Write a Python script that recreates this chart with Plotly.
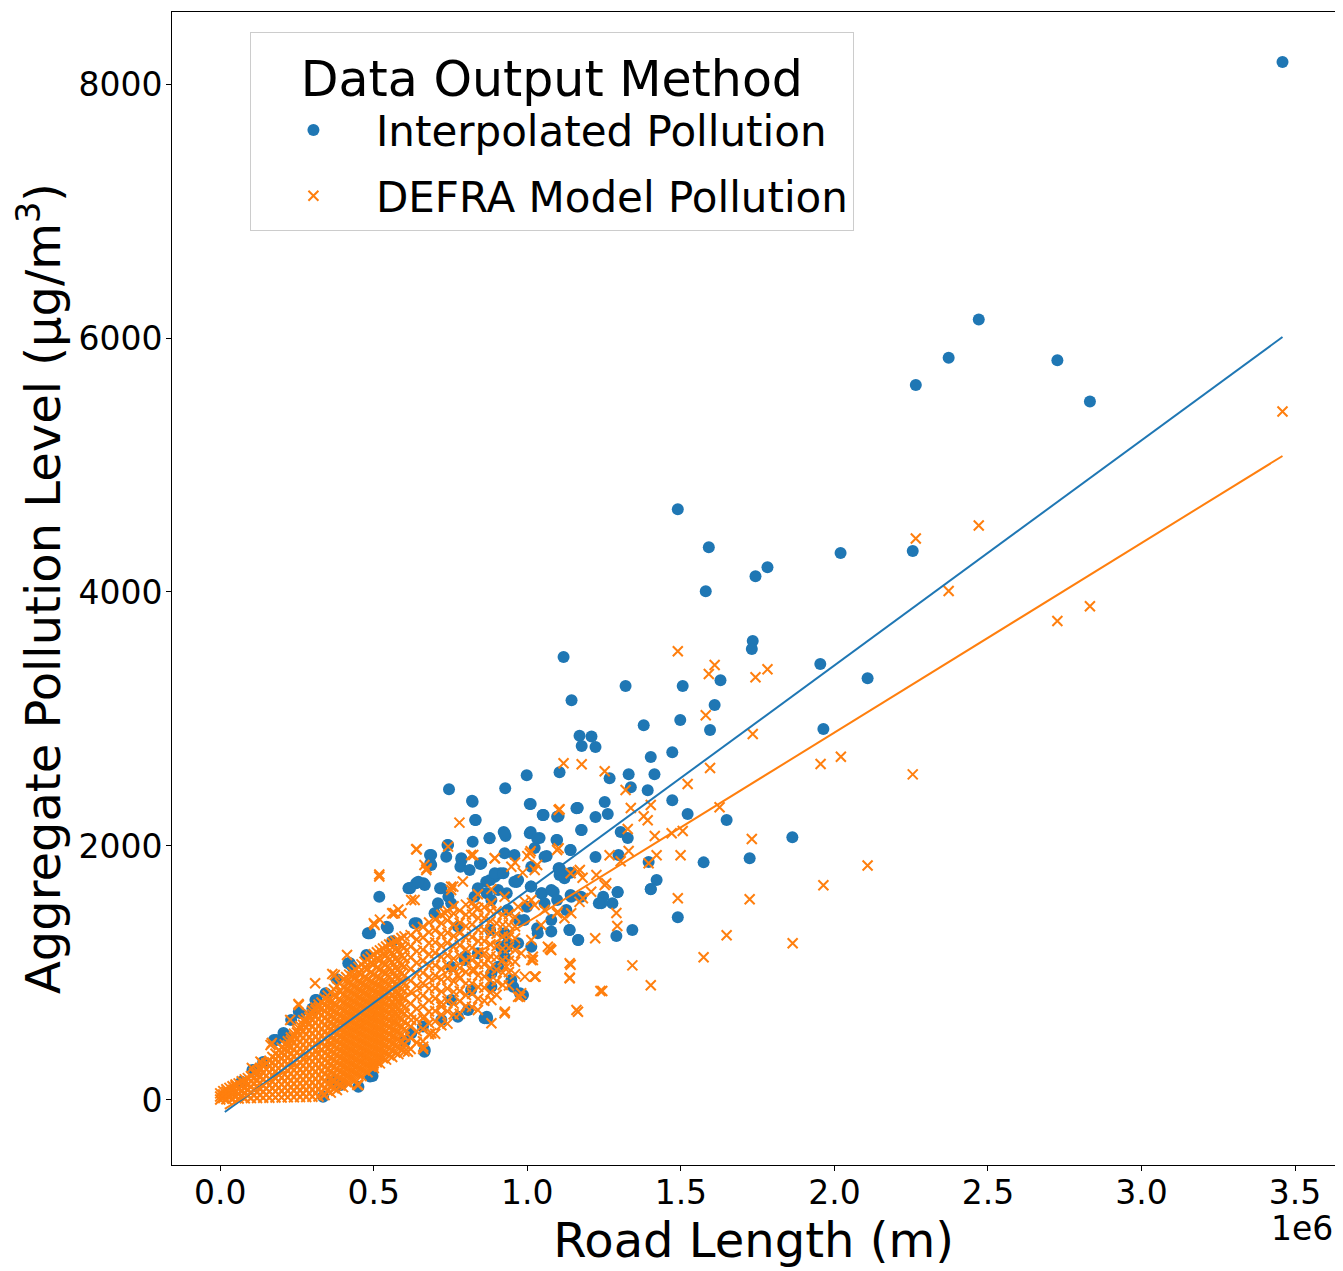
import plotly.graph_objects as go

FONT = "DejaVu Sans"
BLUE = "#1f77b4"
ORANGE = "#ff7f0e"

# ---------------- data (road length in thousands of metres, pollution in µg/m³) ----------------
interp_km = [
    3459, 2470, 2372, 2265, 2726, 2832, 1490, 1591, 1581, 1743, 1782, 2020, 2255,
    1118, 1144, 1320, 1506, 1629, 1610, 1498, 1595, 1379, 1734, 1731, 1954, 2108, 1964,
    1170, 1209, 1177, 1222, 1402, 1472, 998, 1105, 928, 1268, 1330, 1414, 1337, 1392, 1472,
    1011, 1252, 1164, 1053, 1102, 1222, 1262, 1522, 1649, 1177, 1304, 1327, 1863, 877, 923,
    929, 1011, 1040, 1095, 1141, 1024, 1063, 1222, 1297, 1574, 1724, 1395, 1421, 1402, 1294,
    1105, 1105, 965, 1011, 1141, 850, 894, 1490, 1342, 1290, 1402, 1294, 1277, 1247, 1165,
    1138, 1241, 986, 869, 807, 665, 613, 662, 684, 847, 782, 912, 879, 958, 868,
    933, 999, 1048, 1086, 1102, 1141, 1233, 698, 752, 828, 633, 774, 879, 972, 1032,
    1078, 936, 913, 839, 796, 752, 905, 948, 883, 817, 752, 720, 774, 660, 622, 601,
    822, 830, 1008, 1050, 1160, 1175, 1097, 740, 687, 736, 687, 785, 822, 877, 926,
    1008, 1032, 1097, 1140, 812, 926, 958, 1013, 1056, 1105, 894, 866, 905, 970, 1013,
    1045, 1078, 1121, 1143, 1175, 638, 617, 666, 518, 720, 743, 709, 839, 883, 936,
    990, 1056, 1097, 1127, 1078, 1137, 1034, 1013, 970, 926, 926, 546, 481, 421, 796,
    883, 861, 666, 175, 213, 256, 310, 343, 417, 476, 69, 105, 484, 260, 206,
    496, 450, 392, 365, 488, 335, 745, 820, 832, 1051, 1163, 742, 786, 683, 618,
    645, 716, 846, 922, 1107, 640, 542, 488, 422, 933, 1166, 954, 868, 976, 314,
    183, 231, 140, 300, 380, 430, 560,
]
interp_ug = [
    8173, 6145, 5845, 5630, 5825, 5500, 4651, 4352, 4006, 4124, 4195, 4307, 4323,
    3488, 3147, 3260, 3260, 3305, 3110, 2992, 2913, 2950, 3614, 3551, 3433, 3320, 2921,
    2868, 2863, 2787, 2779, 2701, 2738, 2557, 2580, 2454, 2533, 2565, 2565, 2462, 2439, 2360,
    2331, 2346, 2299, 2244, 2236, 2228, 2252, 2252, 2205, 2126, 2110, 2063, 2068, 2063, 2110,
    2079, 2110, 2063, 2047, 1969, 1984, 1921, 1913, 1929, 1871, 1903, 1874, 1732, 1661, 1638,
    1824, 1772, 1717, 1680, 1790, 1864, 1758, 1438, 1339, 1291, 1659, 1635, 1549, 1600, 1260,
    1339, 1549, 827, 643, 709, 380, 1667, 1706, 1864, 1858, 1837, 1785, 1732, 1719, 1627,
    1627, 1522, 1627, 1640, 1824, 1614, 1549, 1470, 1549, 1601, 1391, 1365, 1339, 1417, 1352,
    1326, 1234, 1207, 1155, 1102, 1050, 1050, 945, 892, 866, 787, 630, 656, 578, 525, 460,
    2349, 2205, 2331, 2244, 2297, 2126, 2231, 2008, 1929, 1916, 1850, 1903, 2034, 2061, 2100,
    2100, 2061, 2047, 1969, 1811, 1943, 1929, 1837, 1916, 1811, 1785, 1719, 1654, 1732, 1680,
    1627, 1654, 1746, 1601, 1601, 1706, 1669, 1693, 1601, 1667, 1601, 1549, 1667, 1575, 1496,
    1417, 1549, 1575, 1496, 1417, 1339, 1312, 1207, 1234, 1128, 1312, 1352, 1312, 1076, 1128,
    998, 643, 394, 472, 504, 695, 787, 840, 1076, 1142, 144, 236, 1312, 685, 527,
    189, 105, 118, 144, 184, 26, 2446, 2357, 2205, 2244, 2299, 2008, 1890, 1929, 1667,
    1719, 1667, 1864, 1785, 1811, 1391, 1365, 1312, 1076, 1207, 1260, 892, 656, 840, 787,
    472, 630, 300, 720, 950, 1050, 1250,
]

defra_km = [
    3459, 2265, 2470, 2372, 2726, 2832, 1955, 2021, 2255, 2108, 1964,
    1490, 1610, 1591, 1743, 1782, 1581, 1734, 1595, 1118, 1177, 1252, 1522, 1320, 1337, 1402,
    1102, 1379, 1392, 1626, 1327, 1415, 1470, 1506, 1731, 1102, 1330, 1268, 1421, 1499, 1395,
    1304, 894, 1011, 1724, 1490, 1649, 1864, 1574, 1342, 1402, 1244, 1290, 1293, 1257,
    1221, 1075, 1141, 1138, 1238, 1165, 1027, 1018, 970, 926, 883, 661, 611, 1105, 779,
    638, 742, 518, 518, 671, 817, 894, 960, 1000, 985, 1032, 1097, 1165, 1180, 633,
    568, 503, 752, 790, 839, 883, 926, 970, 1013, 1056, 1097, 1143, 1170, 1067, 1013,
    1018, 1078, 1024, 980, 732, 828, 883, 992, 1024, 1045, 1099, 1121, 1181, 1225, 1252,
    1208, 1141, 1024, 948, 665, 752, 622, 590, 980, 1013, 992, 932, 872, 828, 774,
    883, 839, 720, 665, 687, 622, 560, 500, 413, 309, 365, 255, 228, 168, 103,
    136, 373, 256, 164, 131, 446, 500, 369, 336, 498, 476, 640, 672, 824, 1008,
    1171, 759, 563, 1073, 1138, 1138, 1160, 1024, 976, 927, 661, 498, 450, 520, 580,
]
defra_ug = [
    5421, 4421, 4523, 4008, 3772, 3888, 2646, 2702, 2564, 1846, 1691,
    3533, 3425, 3354, 3328, 3391, 3029, 2882, 2614, 2651, 2643, 2588, 2488, 2441, 2299, 2323,
    2283, 2234, 2202, 2305, 2134, 2079, 2100, 2118, 2055, 1982, 1961, 1927, 1927, 1927, 1864,
    1880, 1903, 1958, 1580, 1588, 1297, 1234, 1124, 1060, 903, 858, 1472, 1370, 1706,
    1273, 1187, 1065, 963, 858, 695, 971, 1102, 813, 683, 604, 402, 380, 2289, 2184,
    1974, 1995, 1760, 1775, 1811, 1929, 1903, 1870, 1920, 1790, 1850, 1969, 1798, 1750, 1575,
    1470, 1378, 1680, 1720, 1620, 1660, 1600, 1522, 1575, 1496, 1470, 1470, 1560, 1207, 1260,
    1128, 1181, 971, 840, 1470, 1522, 1549, 1562, 1535, 1378, 1483, 1431, 1588, 1772, 1693,
    1640, 1785, 1811, 1837, 1850, 1654, 1575, 1470, 1155, 1102, 971, 1050, 1102, 1024, 984,
    787, 709, 735, 656, 525, 630, 1470, 1391, 1142, 919, 992, 756, 630, 449, 252,
    291, 984, 748, 433, 302, 120, 289, 157, 40, 276, 341, 1974, 1824, 1929, 1943,
    1811, 1680, 1470, 1194, 1076, 958, 709, 971, 813, 696, 420, 262, 118, 1420, 1500,
]

# dense DEFRA cloud, read column by column (road length km -> pollution values)
defra_cloud_km = [
    0, 10, 20, 30, 40, 50, 60, 70, 80, 90, 100, 110, 120, 130, 140, 150, 160, 170, 180, 190,
    200, 210, 220, 230, 240, 250, 260, 270, 280, 290, 300, 310, 320, 330, 340, 350, 360, 370,
    380, 390, 400, 410, 420, 430, 440, 450, 460, 470, 480, 490, 500, 510, 520, 530, 540, 550,
    560, 570, 580, 590, 600,
    620, 640, 660, 680, 700, 720, 740, 760, 780, 800, 820, 840, 860, 880, 900, 920, 940, 960,
]
defra_cloud_ug = [
    [4, 28, 52],
    [16, 44, 70],
    [6, 38, 66, 84],
    [24, 58, 95],
    [9, 44, 78, 108],
    [28, 66, 108, 122],
    [11, 49, 88, 131],
    [30, 72, 112, 148],
    [13, 54, 97, 134, 162],
    [34, 79, 124, 172],
    [15, 58, 104, 147, 188],
    [37, 83, 128, 172, 212],
    [16, 61, 108, 156, 201, 232],
    [39, 87, 134, 182, 236, 252],
    [17, 64, 113, 164, 214, 268],
    [41, 90, 139, 190, 242, 289],
    [18, 66, 117, 166, 219, 266, 309],
    [42, 93, 143, 194, 245, 296, 338],
    [19, 69, 121, 172, 224, 273, 322, 364],
    [44, 95, 147, 198, 250, 300, 348, 390],
    [20, 71, 122, 174, 226, 277, 328, 373, 412],
    [46, 97, 149, 201, 253, 305, 355, 402, 438],
    [21, 73, 126, 178, 231, 283, 335, 386, 431, 462],
    [48, 100, 153, 206, 259, 312, 364, 418, 468, 492],
    [22, 74, 128, 183, 237, 291, 344, 398, 452, 498, 521],
    [49, 102, 156, 210, 264, 318, 372, 426, 482, 532, 552],
    [23, 76, 131, 186, 241, 296, 351, 404, 459, 514, 556, 582],
    [51, 106, 160, 215, 270, 325, 380, 434, 489, 544, 592, 628],
    [24, 79, 134, 189, 244, 299, 354, 409, 464, 518, 572, 614, 641],
    [52, 108, 163, 218, 274, 329, 384, 439, 494, 549, 604, 652, 672],
    [25, 81, 137, 192, 248, 303, 358, 413, 468, 523, 578, 631, 674, 702],
    [54, 110, 166, 222, 278, 333, 388, 443, 498, 553, 608, 662, 708, 728],
    [27, 84, 140, 196, 252, 307, 362, 417, 472, 527, 582, 637, 689, 728, 751],
    [60, 117, 173, 229, 285, 340, 395, 450, 505, 560, 615, 670, 722, 768],
    [38, 94, 150, 205, 261, 316, 371, 426, 481, 536, 591, 646, 699, 747, 798],
    [72, 128, 184, 240, 295, 350, 405, 460, 515, 570, 625, 680, 733, 788, 822],
    [58, 113, 169, 224, 279, 334, 389, 444, 499, 554, 609, 664, 718, 774, 846],
    [92, 148, 204, 259, 314, 369, 424, 479, 534, 589, 644, 700, 758, 822, 872],
    [79, 134, 189, 244, 299, 354, 409, 464, 519, 574, 629, 688, 749, 818, 897],
    [114, 170, 225, 280, 335, 390, 445, 500, 555, 610, 665, 724, 784, 852, 918],
    [101, 156, 211, 266, 321, 376, 431, 486, 541, 596, 651, 709, 768, 829, 889, 948],
    [142, 197, 252, 307, 362, 417, 472, 527, 582, 637, 692, 752, 812, 872, 938, 968],
    [128, 184, 239, 294, 349, 404, 459, 514, 569, 624, 679, 738, 798, 859, 921, 987],
    [170, 226, 281, 336, 391, 446, 501, 556, 611, 666, 722, 782, 844, 908, 972, 1008],
    [158, 213, 268, 323, 378, 433, 488, 543, 598, 653, 709, 768, 828, 891, 958, 1028],
    [200, 255, 310, 365, 420, 475, 530, 585, 640, 696, 752, 811, 872, 936, 1002, 1048],
    [188, 243, 298, 353, 408, 463, 518, 573, 628, 684, 739, 798, 858, 921, 991, 1068],
    [232, 287, 342, 397, 452, 507, 562, 617, 672, 727, 783, 842, 903, 968, 1041, 1088],
    [219, 274, 329, 384, 439, 494, 549, 604, 659, 714, 769, 828, 889, 952, 1031, 1108],
    [262, 317, 372, 427, 482, 537, 592, 647, 702, 757, 812, 872, 934, 1004, 1078, 1128],
    [251, 306, 361, 416, 471, 526, 581, 636, 691, 746, 801, 859, 919, 988, 1068, 1148],
    [297, 352, 407, 462, 517, 572, 627, 682, 737, 792, 848, 908, 970, 1040, 1112, 1163],
    [288, 343, 398, 453, 508, 563, 618, 673, 728, 783, 838, 898, 959, 1029, 1101, 1178],
    [328, 383, 438, 493, 548, 603, 658, 713, 768, 823, 878, 940, 1008, 1078, 1148, 1193],
    [318, 373, 428, 483, 538, 593, 648, 703, 758, 813, 868, 928, 998, 1068, 1139, 1208],
    [352, 407, 462, 517, 572, 627, 682, 737, 792, 847, 903, 966, 1034, 1104, 1174, 1224],
    [338, 393, 448, 503, 558, 613, 668, 723, 778, 833, 889, 951, 1019, 1088, 1161, 1238],
    [373, 431, 490, 548, 608, 667, 726, 786, 845, 905, 968, 1036, 1108, 1184, 1250],
    [361, 418, 479, 538, 601, 659, 721, 779, 841, 899, 961, 1029, 1098, 1179, 1259],
    [395, 455, 514, 574, 633, 693, 752, 812, 871, 931, 995, 1063, 1134, 1213, 1276],
    [382, 441, 498, 561, 619, 681, 739, 801, 858, 921, 979, 1051, 1119, 1201, 1288],
    [402, 488, 579, 671, 758, 851, 938, 1031, 1122, 1209, 1298],
    [452, 541, 633, 719, 812, 899, 993, 1081, 1172, 1263, 1341],
    [462, 558, 643, 737, 822, 918, 1001, 1096, 1182, 1279, 1362],
    [517, 604, 697, 786, 877, 966, 1058, 1147, 1236, 1322, 1398],
    [521, 619, 701, 799, 882, 979, 1061, 1158, 1241, 1337, 1421],
    [588, 672, 767, 853, 948, 1032, 1127, 1214, 1305, 1391, 1458],
    [601, 699, 779, 878, 958, 1057, 1138, 1236, 1317, 1414, 1488],
    [674, 759, 851, 934, 1029, 1113, 1206, 1291, 1382, 1468, 1526],
    [679, 778, 858, 957, 1038, 1136, 1218, 1314, 1396, 1491],
    [738, 826, 918, 1008, 1101, 1188, 1279, 1369, 1459, 1538],
    [731, 836, 918, 1019, 1101, 1199, 1283, 1381, 1461, 1552],
    [797, 889, 981, 1071, 1163, 1252, 1341, 1433, 1512],
    [781, 884, 972, 1069, 1156, 1252, 1338, 1431, 1518],
    [846, 944, 1039, 1133, 1226, 1318, 1408, 1489],
    [829, 937, 1026, 1125, 1212, 1309, 1392, 1486],
    [906, 1003, 1101, 1192, 1289, 1381, 1458],
    [902, 1008, 1096, 1196, 1281, 1378, 1463],
    [991, 1088, 1181, 1274, 1366, 1441],
]

# linear fits (end points, km / µg/m³)
fit_km = [15, 3459]
interp_fit_ug = [-95, 6008]
defra_fit_ug = [-70, 5071]

x_tick_vals = [0, 500000, 1000000, 1500000, 2000000, 2500000, 3000000, 3500000]
x_tick_text = ["0.0", "0.5", "1.0", "1.5", "2.0", "2.5", "3.0", "3.5"]
y_tick_vals = [0, 2000, 4000, 6000, 8000]

# ---------------- build ----------------
defra_all_m = [k * 1000 for k in defra_km]
defra_all_ug = list(defra_ug)
for k, col in zip(defra_cloud_km, defra_cloud_ug):
    for v in col:
        defra_all_m.append(k * 1000)
        defra_all_ug.append(v)

fig = go.Figure()
fig.add_trace(go.Scatter(
    x=[k * 1000 for k in interp_km], y=interp_ug, mode="markers",
    name="Interpolated Pollution", legendgroup="a",
    marker=dict(symbol="circle", size=12, color=BLUE, line=dict(width=0)),
))
fig.add_trace(go.Scatter(
    x=defra_all_m, y=defra_all_ug, mode="markers",
    name="DEFRA Model Pollution", legendgroup="b",
    marker=dict(symbol="x-thin", size=10, color=ORANGE, line=dict(width=2, color=ORANGE)),
))
fig.add_trace(go.Scatter(
    x=[k * 1000 for k in fit_km], y=interp_fit_ug, mode="lines",
    line=dict(color=BLUE, width=2), showlegend=False, hoverinfo="skip",
))
fig.add_trace(go.Scatter(
    x=[k * 1000 for k in fit_km], y=defra_fit_ug, mode="lines",
    line=dict(color=ORANGE, width=2), showlegend=False, hoverinfo="skip",
))

axis_common = dict(
    showline=True, linecolor="black", linewidth=1, mirror=True,
    ticks="outside", ticklen=5, tickwidth=1, tickcolor="black",
    showgrid=False, zeroline=False, automargin=False,
    tickfont=dict(family=FONT, size=33, color="black"),
)

fig.update_xaxes(
    range=[-157000, 3630000], tickvals=x_tick_vals, ticktext=x_tick_text,
    ticklabelstandoff=-7,
    title=dict(text="Road Length (m)", font=dict(family=FONT, size=48, color="black"), standoff=0),
    **axis_common,
)
fig.update_yaxes(
    range=[-512, 8567], tickvals=y_tick_vals,
    ticklabelstandoff=-3,
    title=dict(text="Aggregate Pollution Level (μg/m<sup>3</sup>)",
               font=dict(family=FONT, size=48, color="black"), standoff=2),
    **axis_common,
)

fig.update_layout(
    width=1335, height=1263,
    margin=dict(l=164, r=8, t=4, b=106),
    plot_bgcolor="white", paper_bgcolor="white",
    font=dict(family=FONT, color="black"),
    legend=dict(
        title=dict(text="Data Output Method", font=dict(family=FONT, size=49, color="black"),
                   side="top center"),
        font=dict(family=FONT, size=42, color="black"),
        x=0.067, y=0.983, xanchor="left", yanchor="top",
        bgcolor="rgba(255,255,255,0.8)", bordercolor="#cccccc", borderwidth=1,
        itemwidth=115, tracegroupgap=8, traceorder="grouped",
    ),
    annotations=[dict(
        text="1e6", xref="paper", yref="paper", x=1.0, y=-0.055,
        xanchor="right", yanchor="middle", showarrow=False,
        font=dict(family=FONT, size=33, color="black"),
    )],
)

fig.write_html("out.html")
